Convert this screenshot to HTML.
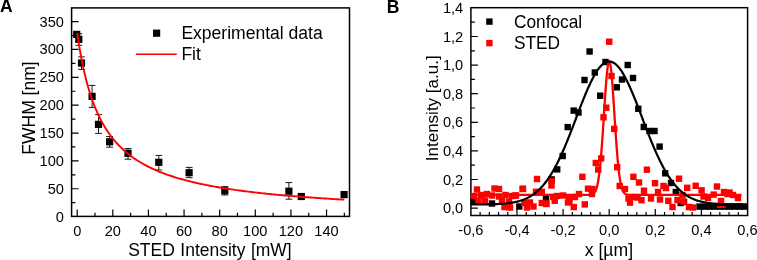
<!DOCTYPE html>
<html><head><meta charset="utf-8"><style>
html,body{margin:0;padding:0;background:#fff;}
body{width:757px;height:260px;overflow:hidden;}
svg{display:block;will-change:transform;}
text{font-family:"Liberation Sans",sans-serif;}
</style></head><body>
<svg width="757" height="260" viewBox="0 0 757 260" font-size="14.6" fill="#000">
<g><rect x="71.6" y="7.9" width="277.9" height="208.5" fill="none" stroke="#000" stroke-width="1.5"/>
<path d="M77.2 216.4v-6.8 M95.01 216.4v-3.6 M112.82 216.4v-6.8 M130.63 216.4v-3.6 M148.44 216.4v-6.8 M166.25 216.4v-3.6 M184.06 216.4v-6.8 M201.87 216.4v-3.6 M219.68 216.4v-6.8 M237.49 216.4v-3.6 M255.3 216.4v-6.8 M273.11 216.4v-3.6 M290.92 216.4v-6.8 M308.73 216.4v-3.6 M326.54 216.4v-6.8 M344.35 216.4v-3.6 M71.6 202.67h3.8 M71.6 188.75h7 M71.6 174.82h3.8 M71.6 160.89h7 M71.6 146.96h3.8 M71.6 133.03h7 M71.6 119.11h3.8 M71.6 105.18h7 M71.6 91.25h3.8 M71.6 77.32h7 M71.6 63.4h3.8 M71.6 49.47h7 M71.6 35.54h3.8 M71.6 21.61h7" stroke="#000" stroke-width="1.2" fill="none"/>
<text transform="translate(77.2,235.6) scale(1,1.03)" text-anchor="middle">0</text>
<text transform="translate(112.82,235.6) scale(1,1.03)" text-anchor="middle">20</text>
<text transform="translate(148.44,235.6) scale(1,1.03)" text-anchor="middle">40</text>
<text transform="translate(184.06,235.6) scale(1,1.03)" text-anchor="middle">60</text>
<text transform="translate(219.68,235.6) scale(1,1.03)" text-anchor="middle">80</text>
<text transform="translate(255.3,235.6) scale(1,1.03)" text-anchor="middle">100</text>
<text transform="translate(290.92,235.6) scale(1,1.03)" text-anchor="middle">120</text>
<text transform="translate(326.54,235.6) scale(1,1.03)" text-anchor="middle">140</text>
<text transform="translate(63.9,221.6) scale(1,1.03)" text-anchor="end">0</text>
<text transform="translate(63.9,193.75) scale(1,1.03)" text-anchor="end">50</text>
<text transform="translate(63.9,165.89) scale(1,1.03)" text-anchor="end">100</text>
<text transform="translate(63.9,138.03) scale(1,1.03)" text-anchor="end">150</text>
<text transform="translate(63.9,110.18) scale(1,1.03)" text-anchor="end">200</text>
<text transform="translate(63.9,82.32) scale(1,1.03)" text-anchor="end">250</text>
<text transform="translate(63.9,54.47) scale(1,1.03)" text-anchor="end">300</text>
<text transform="translate(63.9,26.61) scale(1,1.03)" text-anchor="end">350</text>
<text transform="translate(128.2,256) scale(1,1.04)" font-size="17.5" word-spacing="0.6">STED Intensity [mW]</text>
<text transform="translate(35,154.7) rotate(-90)" font-size="17.5">FWHM [nm]</text>
<text transform="translate(0,12.4) scale(1,1.04)" font-size="17.5" font-weight="bold">A</text>
<rect x="153" y="29.6" width="7.2" height="7.2" fill="#000"/>
<text transform="translate(181.4,39.1) scale(1,1.04)" font-size="17.55">Experimental data</text>
<path d="M136 54.3H176.8" stroke="#f00" stroke-width="1.6"/>
<text transform="translate(181.4,60.4) scale(1,1.04)" font-size="17.55">Fit</text>
<path d="M78.8 33.7V45.3M75.4 33.7h6.8M75.4 45.3h6.8 M81.5 56.9V69.4M78.1 56.9h6.8M78.1 69.4h6.8 M92.1 85.4V107.4M88.7 85.4h6.8M88.7 107.4h6.8 M98.5 114.6V133.4M95.1 114.6h6.8M95.1 133.4h6.8 M109.6 136.5V147.2M106.2 136.5h6.8M106.2 147.2h6.8 M128 148.5V159.2M124.6 148.5h6.8M124.6 159.2h6.8 M158.8 155.4V170M155.4 155.4h6.8M155.4 170h6.8 M189.1 167.4V177.7M185.7 167.4h6.8M185.7 177.7h6.8 M224.8 186.6V195M221.4 186.6h6.8M221.4 195h6.8 M288.9 182.6V199.2M285.5 182.6h6.8M285.5 199.2h6.8" stroke="#000" stroke-width="0.9" fill="none"/>
<rect x="73.1" y="30.8" width="7.2" height="7.2"/>
<rect x="75.2" y="35.7" width="7.2" height="7.2"/>
<rect x="77.9" y="59.4" width="7.2" height="7.2"/>
<rect x="88.5" y="92.8" width="7.2" height="7.2"/>
<rect x="94.9" y="120.8" width="7.2" height="7.2"/>
<rect x="106" y="138.2" width="7.2" height="7.2"/>
<rect x="124.4" y="149.7" width="7.2" height="7.2"/>
<rect x="155.2" y="158.7" width="7.2" height="7.2"/>
<rect x="185.5" y="169.1" width="7.2" height="7.2"/>
<rect x="221.2" y="187.2" width="7.2" height="7.2"/>
<rect x="285.3" y="187.6" width="7.2" height="7.2"/>
<rect x="297.7" y="192.9" width="7.2" height="7.2"/>
<rect x="340.5" y="191" width="7.2" height="7.2"/>
<polyline points="77.2,32.86 77.65,35.96 78.09,38.95 78.54,41.84 78.98,44.64 79.43,47.35 79.87,49.97 80.32,52.52 80.76,54.98 81.21,57.37 81.65,59.7 82.1,61.95 82.54,64.14 82.99,66.27 83.43,68.33 83.88,70.34 84.32,72.3 84.77,74.2 85.21,76.06 85.66,77.86 86.11,79.62 86.55,81.34 87,83.01 87.44,84.64 87.89,86.23 88.33,87.78 88.78,89.3 89.22,90.78 89.67,92.22 90.11,93.63 90.56,95.01 91,96.36 91.45,97.68 91.89,98.97 92.34,100.23 92.78,101.47 93.23,102.68 93.67,103.86 94.12,105.02 94.56,106.15 95.01,107.26 95.46,108.35 95.9,109.42 96.35,110.46 96.79,111.49 97.24,112.5 97.68,113.48 98.13,114.45 98.57,115.4 99.02,116.33 99.46,117.24 99.91,118.14 100.35,119.02 100.8,119.89 101.24,120.74 101.69,121.57 102.13,122.39 102.58,123.2 103.02,123.99 103.47,124.77 103.92,125.54 104.36,126.29 104.81,127.03 105.25,127.76 105.7,128.48 106.14,129.18 106.59,129.87 107.03,130.56 107.48,131.23 107.92,131.89 108.37,132.54 108.81,133.18 109.26,133.81 109.7,134.43 110.15,135.04 110.59,135.65 111.04,136.24 111.48,136.83 111.93,137.4 112.37,137.97 112.82,138.53 113.71,139.63 115.37,141.59 117.03,143.45 118.69,145.22 120.35,146.91 122.01,148.51 123.67,150.05 125.33,151.51 126.98,152.91 128.64,154.26 130.3,155.54 131.96,156.77 133.62,157.96 135.28,159.09 136.94,160.19 138.6,161.24 140.26,162.25 141.92,163.23 143.58,164.17 145.24,165.08 146.9,165.95 148.56,166.8 150.21,167.62 151.87,168.41 153.53,169.18 155.19,169.92 156.85,170.64 158.51,171.34 160.17,172.01 161.83,172.67 163.49,173.31 165.15,173.92 166.81,174.52 168.47,175.11 170.13,175.68 171.79,176.23 173.44,176.76 175.1,177.29 176.76,177.8 178.42,178.29 180.08,178.77 181.74,179.25 183.4,179.7 185.06,180.15 186.72,180.59 188.38,181.02 190.04,181.43 191.7,181.84 193.36,182.24 195.02,182.62 196.67,183 198.33,183.38 199.99,183.74 201.65,184.09 203.31,184.44 204.97,184.78 206.63,185.11 208.29,185.44 209.95,185.76 211.61,186.07 213.27,186.37 214.93,186.67 216.59,186.97 218.24,187.26 219.9,187.54 221.56,187.81 223.22,188.09 224.88,188.35 226.54,188.61 228.2,188.87 229.86,189.12 231.52,189.37 233.18,189.61 234.84,189.85 236.5,190.09 238.16,190.32 239.82,190.54 241.47,190.76 243.13,190.98 244.79,191.2 246.45,191.41 248.11,191.62 249.77,191.82 251.43,192.02 253.09,192.22 254.75,192.41 256.41,192.6 258.07,192.79 259.73,192.98 261.39,193.16 263.05,193.34 264.7,193.52 266.36,193.69 268.02,193.86 269.68,194.03 271.34,194.2 273,194.36 274.66,194.52 276.32,194.68 277.98,194.84 279.64,194.99 281.3,195.14 282.96,195.29 284.62,195.44 286.28,195.59 287.93,195.73 289.59,195.87 291.25,196.01 292.91,196.15 294.57,196.29 296.23,196.42 297.89,196.56 299.55,196.69 301.21,196.82 302.87,196.94 304.53,197.07 306.19,197.19 307.85,197.32 309.51,197.44 311.16,197.56 312.82,197.67 314.48,197.79 316.14,197.91 317.8,198.02 319.46,198.13 321.12,198.24 322.78,198.35 324.44,198.46 326.1,198.57 327.76,198.67 329.42,198.78 331.08,198.88 332.74,198.98 334.39,199.08 336.05,199.18 337.71,199.28 339.37,199.38 341.03,199.47 342.69,199.57 344.35,199.66" fill="none" stroke="#f00" stroke-width="1.9"/></g>
<g><rect x="470.9" y="7.7" width="276.7" height="207.8" fill="none" stroke="#000" stroke-width="1.5"/>
<path d="M480.12 215.5v-3.6 M489.34 215.5v-3.6 M498.56 215.5v-3.6 M507.78 215.5v-3.6 M517 215.5v-6.5 M526.22 215.5v-3.6 M535.44 215.5v-3.6 M544.66 215.5v-3.6 M553.88 215.5v-3.6 M563.1 215.5v-6.5 M572.32 215.5v-3.6 M581.54 215.5v-3.6 M590.76 215.5v-3.6 M599.98 215.5v-3.6 M609.2 215.5v-6.5 M618.42 215.5v-3.6 M627.64 215.5v-3.6 M636.86 215.5v-3.6 M646.08 215.5v-3.6 M655.3 215.5v-6.5 M664.52 215.5v-3.6 M673.74 215.5v-3.6 M682.96 215.5v-3.6 M692.18 215.5v-3.6 M701.4 215.5v-6.5 M710.62 215.5v-3.6 M719.84 215.5v-3.6 M729.06 215.5v-3.6 M738.28 215.5v-3.6 M470.9 208.1h7 M470.9 193.8h4 M470.9 179.5h7 M470.9 165.2h4 M470.9 150.9h7 M470.9 136.6h4 M470.9 122.3h7 M470.9 108h4 M470.9 93.7h7 M470.9 79.4h4 M470.9 65.1h7 M470.9 50.8h4 M470.9 36.5h7 M470.9 22.2h4" stroke="#000" stroke-width="1.2" fill="none"/>
<text transform="translate(470.9,234.8) scale(1,1.03)" text-anchor="middle">-0,6</text>
<text transform="translate(517,234.8) scale(1,1.03)" text-anchor="middle">-0,4</text>
<text transform="translate(563.1,234.8) scale(1,1.03)" text-anchor="middle">-0,2</text>
<text transform="translate(609.2,234.8) scale(1,1.03)" text-anchor="middle">0,0</text>
<text transform="translate(655.3,234.8) scale(1,1.03)" text-anchor="middle">0,2</text>
<text transform="translate(701.4,234.8) scale(1,1.03)" text-anchor="middle">0,4</text>
<text transform="translate(747.5,234.8) scale(1,1.03)" text-anchor="middle">0,6</text>
<text transform="translate(463.2,213.1) scale(1,1.03)" text-anchor="end">0,0</text>
<text transform="translate(463.2,184.5) scale(1,1.03)" text-anchor="end">0,2</text>
<text transform="translate(463.2,155.9) scale(1,1.03)" text-anchor="end">0,4</text>
<text transform="translate(463.2,127.3) scale(1,1.03)" text-anchor="end">0,6</text>
<text transform="translate(463.2,98.7) scale(1,1.03)" text-anchor="end">0,8</text>
<text transform="translate(463.2,70.1) scale(1,1.03)" text-anchor="end">1,0</text>
<text transform="translate(463.2,41.5) scale(1,1.03)" text-anchor="end">1,2</text>
<text transform="translate(463.2,12.9) scale(1,1.03)" text-anchor="end">1,4</text>
<text transform="translate(584.8,256.2) scale(1,1.04)" font-size="17.6">x [µm]</text>
<text transform="translate(438.4,161.2) rotate(-90)" font-size="17">Intensity [a.u.]</text>
<text transform="translate(386.7,12.5) scale(1,1.04)" font-size="17.5" font-weight="bold">B</text>
<rect x="486.2" y="18.4" width="6.4" height="6.4" fill="#000"/>
<text transform="translate(514,27.7) scale(1,1.04)" font-size="17.3">Confocal</text>
<rect x="486.2" y="39.9" width="6.4" height="6.4" fill="#f00"/>
<text transform="translate(514,48.9) scale(1,1.04)" font-size="17.3">STED</text></g>
<g><g fill="#000"><rect x="586.4" y="48.3" width="6.4" height="6.4"/><rect x="602.3" y="58.8" width="6.4" height="6.4"/><rect x="624.5" y="61.8" width="6.4" height="6.4"/><rect x="591.6" y="69.3" width="6.4" height="6.4"/><rect x="581.3" y="76.8" width="6.4" height="6.4"/><rect x="618.8" y="76.3" width="6.4" height="6.4"/><rect x="629.8" y="74.8" width="6.4" height="6.4"/><rect x="613.6" y="84.1" width="6.4" height="6.4"/><rect x="597" y="92.5" width="6.4" height="6.4"/><rect x="570.5" y="107.4" width="6.4" height="6.4"/><rect x="575.3" y="109.3" width="6.4" height="6.4"/><rect x="635.1" y="105.6" width="6.4" height="6.4"/><rect x="564.5" y="123.9" width="6.4" height="6.4"/><rect x="640.6" y="123.8" width="6.4" height="6.4"/><rect x="646.3" y="127.8" width="6.4" height="6.4"/><rect x="651.3" y="127.8" width="6.4" height="6.4"/><rect x="656.4" y="143.4" width="6.4" height="6.4"/><rect x="559.5" y="152.8" width="6.4" height="6.4"/><rect x="554" y="166.2" width="6.4" height="6.4"/><rect x="548.5" y="176.2" width="6.4" height="6.4"/><rect x="662" y="170.1" width="6.4" height="6.4"/><rect x="667.8" y="179.8" width="6.4" height="6.4"/><rect x="672.6" y="188.8" width="6.4" height="6.4"/><rect x="677.5" y="199.8" width="6.4" height="6.4"/><rect x="470.8" y="197.8" width="6.4" height="6.4"/><rect x="488.8" y="200.3" width="6.4" height="6.4"/><rect x="516.1" y="203.3" width="6.4" height="6.4"/><rect x="542.8" y="195.8" width="6.4" height="6.4"/><rect x="680.8" y="198.8" width="6.4" height="6.4"/><rect x="696.3" y="203.4" width="6.4" height="6.4"/><rect x="701.3" y="203.4" width="6.4" height="6.4"/><rect x="706.3" y="203.4" width="6.4" height="6.4"/><rect x="711.3" y="203.4" width="6.4" height="6.4"/><rect x="716.3" y="203.4" width="6.4" height="6.4"/><rect x="721.3" y="203.4" width="6.4" height="6.4"/><rect x="726.3" y="203.4" width="6.4" height="6.4"/><rect x="731.3" y="203.4" width="6.4" height="6.4"/><rect x="736.3" y="203.4" width="6.4" height="6.4"/><rect x="741" y="203.4" width="6.4" height="6.4"/></g>
<g fill="#f00"><rect x="473.8" y="186.3" width="6.4" height="6.4"/><rect x="491.3" y="185.3" width="6.4" height="6.4"/><rect x="495.8" y="185.8" width="6.4" height="6.4"/><rect x="519.8" y="185.8" width="6.4" height="6.4"/><rect x="470.8" y="192.8" width="6.4" height="6.4"/><rect x="477.8" y="191.8" width="6.4" height="6.4"/><rect x="483.8" y="190.8" width="6.4" height="6.4"/><rect x="488.8" y="192.3" width="6.4" height="6.4"/><rect x="495.8" y="193.3" width="6.4" height="6.4"/><rect x="502.3" y="191.8" width="6.4" height="6.4"/><rect x="508.8" y="192.8" width="6.4" height="6.4"/><rect x="512.8" y="192.3" width="6.4" height="6.4"/><rect x="475.3" y="197.3" width="6.4" height="6.4"/><rect x="481.8" y="197.3" width="6.4" height="6.4"/><rect x="498.8" y="197.3" width="6.4" height="6.4"/><rect x="505.8" y="198.3" width="6.4" height="6.4"/><rect x="501.3" y="203.8" width="6.4" height="6.4"/><rect x="506.8" y="204.3" width="6.4" height="6.4"/><rect x="521.3" y="199.8" width="6.4" height="6.4"/><rect x="526.8" y="199.3" width="6.4" height="6.4"/><rect x="523.8" y="204.3" width="6.4" height="6.4"/><rect x="530.3" y="203.3" width="6.4" height="6.4"/><rect x="538.6" y="199.8" width="6.4" height="6.4"/><rect x="505.3" y="203.8" width="6.4" height="6.4"/><rect x="533.8" y="175.8" width="6.4" height="6.4"/><rect x="548.3" y="177.8" width="6.4" height="6.4"/><rect x="548.3" y="182.3" width="6.4" height="6.4"/><rect x="532.8" y="188.6" width="6.4" height="6.4"/><rect x="538.6" y="188.6" width="6.4" height="6.4"/><rect x="519.4" y="185.5" width="6.4" height="6.4"/><rect x="512.3" y="192.3" width="6.4" height="6.4"/><rect x="542.8" y="200.3" width="6.4" height="6.4"/><rect x="549.8" y="193.8" width="6.4" height="6.4"/><rect x="551.5" y="197.6" width="6.4" height="6.4"/><rect x="543.3" y="200.8" width="6.4" height="6.4"/><rect x="553.8" y="192.8" width="6.4" height="6.4"/><rect x="559.8" y="192.3" width="6.4" height="6.4"/><rect x="565.8" y="195.3" width="6.4" height="6.4"/><rect x="571.8" y="193.8" width="6.4" height="6.4"/><rect x="566.3" y="198.3" width="6.4" height="6.4"/><rect x="564.8" y="199.3" width="6.4" height="6.4"/><rect x="570.6" y="203.8" width="6.4" height="6.4"/><rect x="581.6" y="201.2" width="6.4" height="6.4"/><rect x="579.2" y="173.6" width="6.4" height="6.4"/><rect x="584.8" y="185.5" width="6.4" height="6.4"/><rect x="588.8" y="190.8" width="6.4" height="6.4"/><rect x="575.8" y="190.8" width="6.4" height="6.4"/><rect x="589.3" y="185.8" width="6.4" height="6.4"/><rect x="592.6" y="159.8" width="6.4" height="6.4"/><rect x="598" y="155.2" width="6.4" height="6.4"/><rect x="595" y="166.3" width="6.4" height="6.4"/><rect x="614" y="164" width="6.4" height="6.4"/><rect x="616.5" y="182.8" width="6.4" height="6.4"/><rect x="621.8" y="185.8" width="6.4" height="6.4"/><rect x="625.3" y="195.3" width="6.4" height="6.4"/><rect x="626.8" y="199.4" width="6.4" height="6.4"/><rect x="630.8" y="193.8" width="6.4" height="6.4"/><rect x="634.3" y="194.3" width="6.4" height="6.4"/><rect x="630.2" y="173.6" width="6.4" height="6.4"/><rect x="635.8" y="179.3" width="6.4" height="6.4"/><rect x="643.7" y="166.5" width="6.4" height="6.4"/><rect x="651.8" y="180" width="6.4" height="6.4"/><rect x="660.3" y="182.8" width="6.4" height="6.4"/><rect x="662.8" y="184.8" width="6.4" height="6.4"/><rect x="640.8" y="187.5" width="6.4" height="6.4"/><rect x="654.8" y="188.8" width="6.4" height="6.4"/><rect x="638.3" y="197" width="6.4" height="6.4"/><rect x="647.8" y="195.3" width="6.4" height="6.4"/><rect x="656.8" y="196.3" width="6.4" height="6.4"/><rect x="665.1" y="197.6" width="6.4" height="6.4"/><rect x="669.3" y="203.8" width="6.4" height="6.4"/><rect x="675.8" y="175.5" width="6.4" height="6.4"/><rect x="674.3" y="196.8" width="6.4" height="6.4"/><rect x="680.3" y="198.3" width="6.4" height="6.4"/><rect x="679.3" y="191.8" width="6.4" height="6.4"/><rect x="684" y="184.6" width="6.4" height="6.4"/><rect x="692.5" y="182.6" width="6.4" height="6.4"/><rect x="698.4" y="187.1" width="6.4" height="6.4"/><rect x="685.8" y="203.8" width="6.4" height="6.4"/><rect x="689.8" y="204.3" width="6.4" height="6.4"/><rect x="700.3" y="193.3" width="6.4" height="6.4"/><rect x="704.8" y="194.8" width="6.4" height="6.4"/><rect x="710.5" y="191.4" width="6.4" height="6.4"/><rect x="713.8" y="183.3" width="6.4" height="6.4"/><rect x="720.8" y="188.8" width="6.4" height="6.4"/><rect x="724.3" y="190.8" width="6.4" height="6.4"/><rect x="726.3" y="189.3" width="6.4" height="6.4"/><rect x="729.8" y="191.8" width="6.4" height="6.4"/><rect x="734.8" y="194.8" width="6.4" height="6.4"/><rect x="717.8" y="197.8" width="6.4" height="6.4"/><rect x="606" y="38.5" width="6.4" height="6.4"/><rect x="608.3" y="72.8" width="6.4" height="6.4"/><rect x="603.1" y="104.5" width="6.4" height="6.4"/><rect x="600.3" y="114.1" width="6.4" height="6.4"/><rect x="611" y="125.7" width="6.4" height="6.4"/></g>
<rect x="716.8" y="206" width="8.9" height="2" fill="#f00"/>
<polyline points="470.9,194.94 472.93,194.94 474.96,194.94 476.99,194.94 479.03,194.94 481.06,194.94 483.09,194.94 485.12,194.94 487.15,194.94 489.18,194.94 491.22,194.94 493.25,194.94 495.28,194.94 497.31,194.94 499.34,194.94 501.37,194.94 503.4,194.94 505.44,194.94 507.47,194.94 509.5,194.94 511.53,194.94 513.56,194.94 515.59,194.94 517.63,194.94 519.66,194.94 521.69,194.94 523.72,194.94 525.75,194.94 527.78,194.94 529.81,194.94 531.85,194.94 533.88,194.94 535.91,194.94 537.94,194.94 539.97,194.94 542,194.94 544.03,194.94 546.07,194.94 548.1,194.94 550.13,194.94 552.16,194.94 554.19,194.94 556.22,194.94 558.26,194.94 560.29,194.94 562.32,194.94 564.35,194.94 566.38,194.94 568.41,194.94 570.44,194.94 572.48,194.94 574.51,194.94 576.54,194.94 578.57,194.94 580.6,194.94 582.63,194.94 584.67,194.94 586.7,194.93 588.73,194.89 590.76,194.7 590.76,194.7 590.99,194.66 591.22,194.62 591.45,194.56 591.68,194.5 591.91,194.43 592.14,194.35 592.37,194.25 592.6,194.14 592.83,194.02 593.07,193.89 593.3,193.73 593.53,193.55 593.76,193.36 593.99,193.13 594.22,192.88 594.45,192.6 594.68,192.29 594.91,191.94 595.14,191.55 595.37,191.12 595.6,190.65 595.83,190.12 596.06,189.54 596.29,188.9 596.52,188.2 596.75,187.44 596.98,186.6 597.21,185.69 597.44,184.7 597.68,183.62 597.91,182.46 598.14,181.21 598.37,179.86 598.6,178.4 598.83,176.85 599.06,175.19 599.29,173.41 599.52,171.53 599.75,169.53 599.98,167.41 600.21,165.18 600.44,162.82 600.67,160.35 600.9,157.77 601.13,155.07 601.36,152.26 601.59,149.34 601.82,146.31 602.05,143.19 602.29,139.98 602.52,136.68 602.75,133.3 602.98,129.86 603.21,126.37 603.44,122.82 603.67,119.25 603.9,115.65 604.13,112.05 604.36,108.45 604.59,104.88 604.82,101.34 605.05,97.85 605.28,94.44 605.51,91.11 605.74,87.88 605.97,84.77 606.2,81.79 606.43,78.96 606.66,76.3 606.9,73.81 607.13,71.52 607.36,69.43 607.59,67.56 607.82,65.91 608.05,64.5 608.28,63.34 608.51,62.42 608.74,61.77 608.97,61.37 609.2,61.24 609.43,61.37 609.66,61.77 609.89,62.42 610.12,63.34 610.35,64.5 610.58,65.91 610.81,67.56 611.04,69.43 611.27,71.52 611.5,73.81 611.74,76.3 611.97,78.96 612.2,81.79 612.43,84.77 612.66,87.88 612.89,91.11 613.12,94.44 613.35,97.85 613.58,101.34 613.81,104.88 614.04,108.45 614.27,112.05 614.5,115.65 614.73,119.25 614.96,122.82 615.19,126.37 615.42,129.86 615.65,133.3 615.88,136.68 616.12,139.98 616.35,143.19 616.58,146.31 616.81,149.34 617.04,152.26 617.27,155.07 617.5,157.77 617.73,160.35 617.96,162.82 618.19,165.18 618.42,167.41 618.65,169.53 618.88,171.53 619.11,173.41 619.34,175.19 619.57,176.85 619.8,178.4 620.03,179.86 620.26,181.21 620.49,182.46 620.73,183.62 620.96,184.7 621.19,185.69 621.42,186.6 621.65,187.44 621.88,188.2 622.11,188.9 622.34,189.54 622.57,190.12 622.8,190.65 623.03,191.12 623.26,191.55 623.49,191.94 623.72,192.29 623.95,192.6 624.18,192.88 624.41,193.13 624.64,193.36 624.87,193.55 625.1,193.73 625.34,193.89 625.57,194.02 625.8,194.14 626.03,194.25 626.26,194.35 626.49,194.43 626.72,194.5 626.95,194.56 627.18,194.62 627.41,194.66 627.64,194.7 627.64,194.7 629.57,194.88 631.5,194.93 633.43,194.94 635.36,194.94 637.29,194.94 639.22,194.94 641.15,194.94 643.08,194.94 645.01,194.94 646.94,194.94 648.87,194.94 650.8,194.94 652.73,194.94 654.66,194.94 656.59,194.94 658.52,194.94 660.45,194.94 662.38,194.94 664.31,194.94 666.24,194.94 668.17,194.94 670.1,194.94 672.03,194.94 673.96,194.94 675.89,194.94 677.82,194.94 679.75,194.94 681.68,194.94 683.61,194.94 685.54,194.94 687.47,194.94 689.4,194.94 691.33,194.94 693.26,194.94 695.19,194.94 697.12,194.94 699.05,194.94 700.98,194.94 702.91,194.94 704.84,194.94 706.77,194.94 708.7,194.94 710.63,194.94 712.56,194.94 714.49,194.94 716.42,194.94 718.35,194.94 720.28,194.94 722.21,194.94 724.14,194.94 726.07,194.94 728,194.94 729.93,194.94 731.86,194.94 733.79,194.94 735.72,194.94 737.65,194.94 739.58,194.94 741.51,194.94" fill="none" stroke="#f00" stroke-width="2.3"/>
<polyline points="470.9,204.5 472.05,204.5 473.21,204.5 474.36,204.49 475.51,204.49 476.66,204.48 477.82,204.47 478.97,204.47 480.12,204.46 481.27,204.45 482.43,204.44 483.58,204.42 484.73,204.41 485.88,204.39 487.04,204.38 488.19,204.36 489.34,204.33 490.49,204.31 491.65,204.28 492.8,204.24 493.95,204.21 495.1,204.17 496.26,204.12 497.41,204.07 498.56,204.01 499.71,203.95 500.87,203.88 502.02,203.8 503.17,203.72 504.32,203.62 505.48,203.51 506.63,203.4 507.78,203.27 508.93,203.13 510.09,202.97 511.24,202.8 512.39,202.61 513.54,202.4 514.7,202.18 515.85,201.93 517,201.67 518.15,201.37 519.31,201.06 520.46,200.71 521.61,200.34 522.76,199.93 523.92,199.49 525.07,199.02 526.22,198.51 527.37,197.96 528.53,197.37 529.68,196.74 530.83,196.06 531.98,195.33 533.13,194.55 534.29,193.72 535.44,192.83 536.59,191.89 537.75,190.88 538.9,189.82 540.05,188.69 541.2,187.49 542.36,186.23 543.51,184.9 544.66,183.5 545.81,182.02 546.97,180.47 548.12,178.84 549.27,177.14 550.42,175.36 551.58,173.5 552.73,171.57 553.88,169.56 555.03,167.47 556.19,165.3 557.34,163.05 558.49,160.73 559.64,158.34 560.8,155.88 561.95,153.35 563.1,150.75 564.25,148.09 565.41,145.37 566.56,142.59 567.71,139.77 568.86,136.9 570.02,133.98 571.17,131.03 572.32,128.06 573.47,125.05 574.62,122.03 575.78,119 576.93,115.97 578.08,112.94 579.24,109.93 580.39,106.93 581.54,103.97 582.69,101.03 583.85,98.15 585,95.32 586.15,92.54 587.3,89.84 588.46,87.22 589.61,84.68 590.76,82.24 591.91,79.9 593.07,77.67 594.22,75.56 595.37,73.57 596.52,71.72 597.68,70 598.83,68.43 599.98,67.01 601.13,65.74 602.29,64.64 603.44,63.69 604.59,62.92 605.74,62.31 606.9,61.87 608.05,61.61 609.2,61.53 610.35,61.61 611.5,61.87 612.66,62.31 613.81,62.92 614.96,63.69 616.12,64.64 617.27,65.74 618.42,67.01 619.57,68.43 620.73,70 621.88,71.72 623.03,73.57 624.18,75.56 625.34,77.67 626.49,79.9 627.64,82.24 628.79,84.68 629.95,87.22 631.1,89.84 632.25,92.54 633.4,95.32 634.56,98.15 635.71,101.03 636.86,103.97 638.01,106.93 639.17,109.93 640.32,112.94 641.47,115.97 642.62,119 643.78,122.03 644.93,125.05 646.08,128.06 647.23,131.03 648.39,133.98 649.54,136.9 650.69,139.77 651.84,142.59 653,145.37 654.15,148.09 655.3,150.75 656.45,153.35 657.61,155.88 658.76,158.34 659.91,160.73 661.06,163.05 662.22,165.3 663.37,167.47 664.52,169.56 665.67,171.57 666.83,173.5 667.98,175.36 669.13,177.14 670.28,178.84 671.44,180.47 672.59,182.02 673.74,183.5 674.89,184.9 676.05,186.23 677.2,187.49 678.35,188.69 679.5,189.82 680.66,190.88 681.81,191.89 682.96,192.83 684.11,193.72 685.27,194.55 686.42,195.33 687.57,196.06 688.72,196.74 689.88,197.37 691.03,197.96 692.18,198.51 693.33,199.02 694.49,199.49 695.64,199.93 696.79,200.34 697.94,200.71 699.1,201.06 700.25,201.37 701.4,201.67 702.55,201.93 703.71,202.18 704.86,202.4 706.01,202.61 707.16,202.8 708.32,202.97 709.47,203.13 710.62,203.27 711.77,203.4 712.93,203.51 714.08,203.62 715.23,203.72 716.38,203.8 717.54,203.88 718.69,203.95 719.84,204.01 720.99,204.07 722.15,204.12 723.3,204.17 724.45,204.21 725.6,204.24 726.76,204.28 727.91,204.31 729.06,204.33 730.21,204.36 731.37,204.38 732.52,204.39 733.67,204.41 734.82,204.42 735.98,204.44 737.13,204.45 738.28,204.46 739.43,204.47 740.59,204.47 741.74,204.48 742.89,204.49 744.04,204.49 745.2,204.5 746.35,204.5 747.5,204.5" fill="none" stroke="#000" stroke-width="2.2"/></g>
</svg>
</body></html>
